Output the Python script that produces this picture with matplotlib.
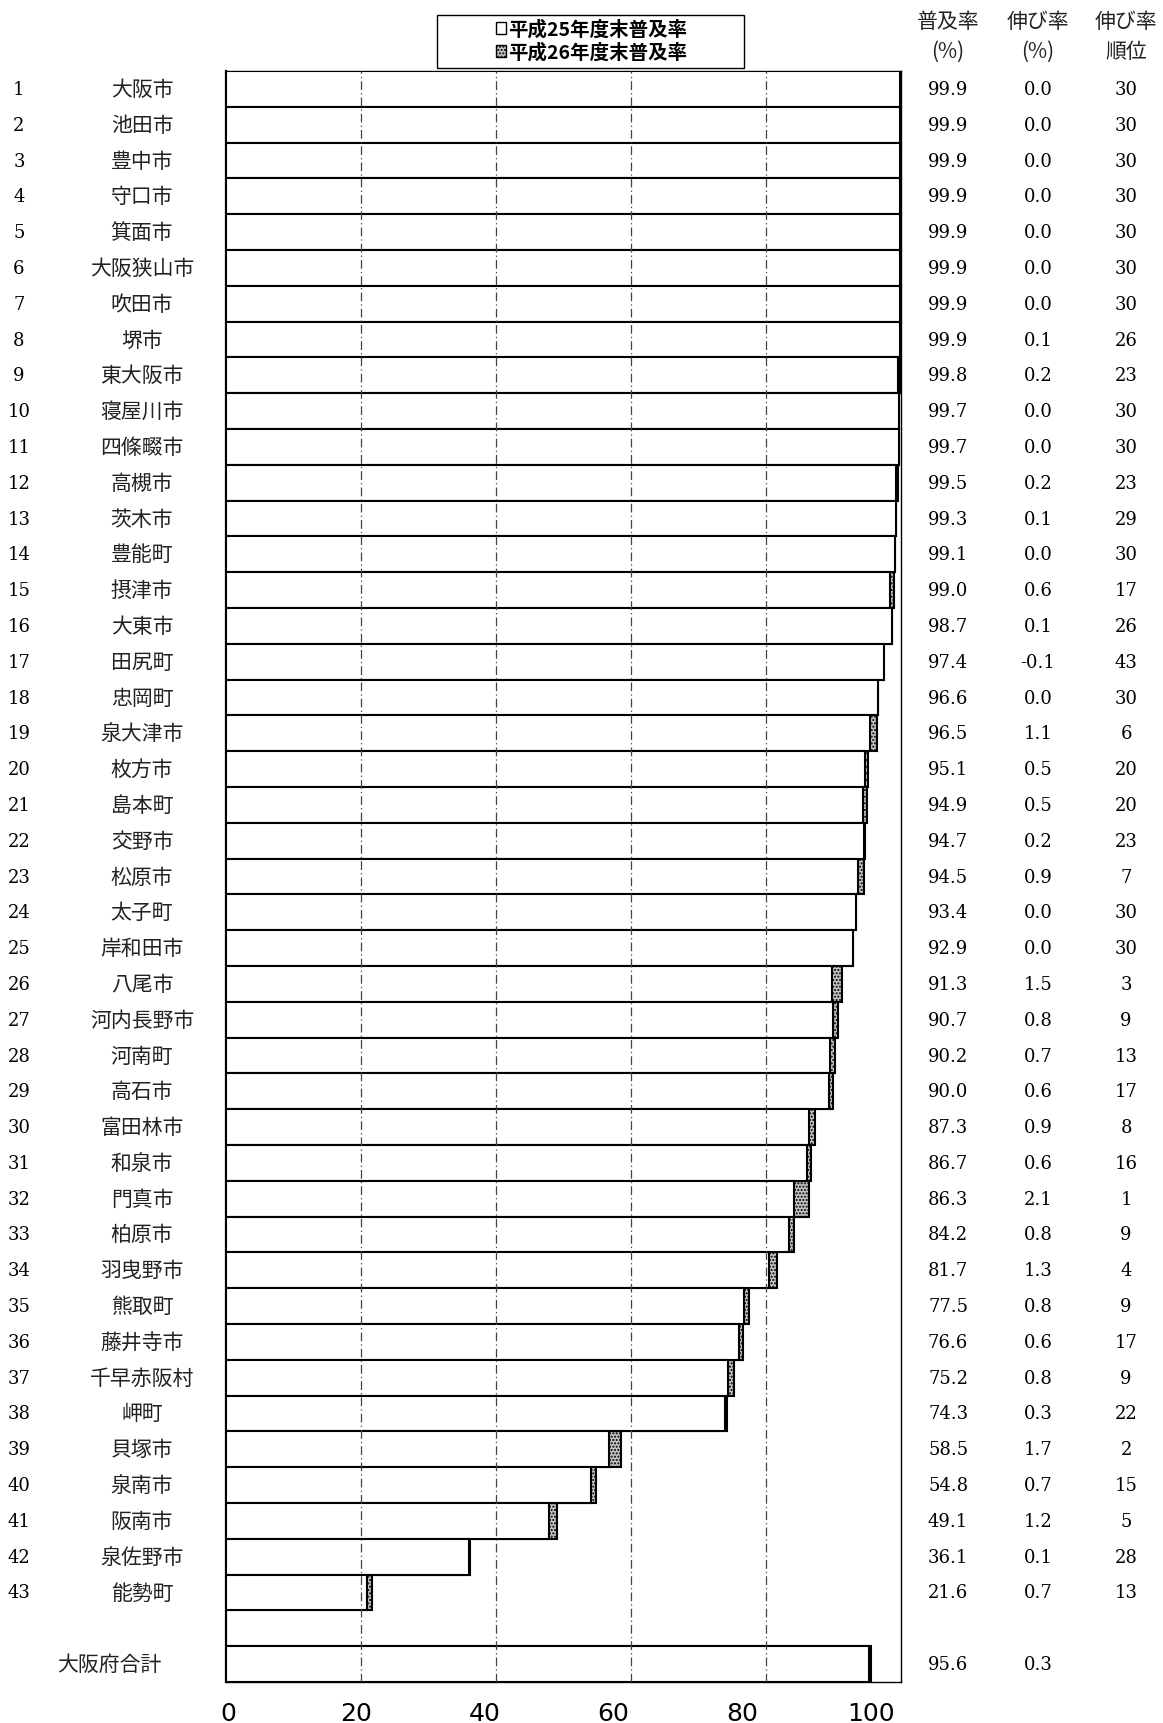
import matplotlib
matplotlib.use('Agg')
import matplotlib.pyplot as plt
from matplotlib.patches import Patch, Rectangle
from matplotlib.transforms import blended_transform_factory

# data
names = ['大阪市', '池田市', '豊中市', '守口市', '箕面市', '大阪狭山市', '吹田市', '堺市',
         '東大阪市', '寝屋川市', '四條畷市', '高槻市', '茨木市', '豊能町', '摂津市', '大東市',
         '田尻町', '忠岡町', '泉大津市', '枚方市', '島本町', '交野市', '松原市', '太子町',
         '岸和田市', '八尾市', '河内長野市', '河南町', '高石市', '富田林市', '和泉市', '門真市',
         '柏原市', '羽曳野市', '熊取町', '藤井寺市', '千早赤阪村', '岬町', '貝塚市', '泉南市',
         '阪南市', '泉佐野市', '能勢町']
rate26 = [99.9, 99.9, 99.9, 99.9, 99.9, 99.9, 99.9, 99.9, 99.8, 99.7, 99.7, 99.5, 99.3,
          99.1, 99.0, 98.7, 97.4, 96.6, 96.5, 95.1, 94.9, 94.7, 94.5, 93.4, 92.9, 91.3,
          90.7, 90.2, 90.0, 87.3, 86.7, 86.3, 84.2, 81.7, 77.5, 76.6, 75.2, 74.3, 58.5,
          54.8, 49.1, 36.1, 21.6]
growth = [0.0, 0.0, 0.0, 0.0, 0.0, 0.0, 0.0, 0.1, 0.2, 0.0, 0.0, 0.2, 0.1, 0.0, 0.6, 0.1,
          -0.1, 0.0, 1.1, 0.5, 0.5, 0.2, 0.9, 0.0, 0.0, 1.5, 0.8, 0.7, 0.6, 0.9, 0.6, 2.1,
          0.8, 1.3, 0.8, 0.6, 0.8, 0.3, 1.7, 0.7, 1.2, 0.1, 0.7]
rank = [30, 30, 30, 30, 30, 30, 30, 26, 23, 30, 30, 23, 29, 30, 17, 26, 43, 30, 6, 20, 20,
        23, 7, 30, 30, 3, 9, 13, 17, 8, 16, 1, 9, 4, 9, 17, 9, 22, 2, 15, 5, 28, 13]
total_name = '大阪府合計'
total_rate = 95.6
total_growth = 0.3
ticks = [0, 20, 40, 60, 80, 100]
legend_labels = ['平成25年度末普及率', '平成26年度末普及率']

jp = 'Noto Sans CJK JP'
serif = 'DejaVu Serif'
gray = '#c4c4c4'
txt = '#222222'

n = len(names)
ypos = list(range(n)) + [n + 1]          # one empty row before the prefecture total
all26 = rate26 + [total_rate]
all_g = growth + [total_growth]
all25 = [r - g for r, g in zip(all26, all_g)]

fig = plt.figure(figsize=(11.63, 17.24), dpi=100)
ax = fig.add_axes([0.1943, 0.0238, 0.5804, 0.9344])

ax.barh(ypos, all26, height=1.0, color=gray, edgecolor='black', linewidth=1.5,
        hatch='.....', zorder=2)
ax.barh(ypos, all25, height=1.0, color='white', edgecolor='black', linewidth=1.5, zorder=3)
for g in ticks[1:-1]:
    ax.axvline(g, color='#444444', lw=0.9, ls=(0, (7, 2.5, 1, 2.5)), zorder=4)

ax.set_xlim(0, 100)
ax.set_ylim(n + 1.5, -0.5)
ax.set_yticks([])
# the original's labels sit a little left of their gridlines
ax.set_xticks([0.3 + 0.952 * t for t in ticks])
ax.set_xticklabels([str(t) for t in ticks], fontsize=18, family='DejaVu Sans')
ax.tick_params(axis='x', length=0, pad=14)
for s in ['top', 'right', 'bottom']:
    ax.spines[s].set_linewidth(1.0)
ax.spines['left'].set_linewidth(1.6)

tr = blended_transform_factory(fig.transFigure, ax.transData)
for i in range(n):
    ax.text(0.0163, i, str(i + 1), transform=tr, ha='center', va='center',
            fontsize=13, family=serif, clip_on=False)
    ax.text(0.1221, i, names[i], transform=tr, ha='center', va='center',
            fontsize=15, family=jp, color=txt, clip_on=False)
    ax.text(0.8152, i, f'{rate26[i]:.1f}', transform=tr, ha='center', va='center',
            fontsize=13, family=serif, clip_on=False)
    ax.text(0.8925, i, f'{growth[i]:.1f}', transform=tr, ha='center', va='center',
            fontsize=13, family=serif, clip_on=False)
    ax.text(0.9682, i, str(rank[i]), transform=tr, ha='center', va='center',
            fontsize=13, family=serif, clip_on=False)
ax.text(0.0937, n + 1, total_name, transform=tr, ha='center', va='center',
        fontsize=15, family=jp, color=txt, clip_on=False)
ax.text(0.8152, n + 1, f'{total_rate:.1f}', transform=tr, ha='center', va='center',
        fontsize=13, family=serif, clip_on=False)
ax.text(0.8925, n + 1, f'{total_growth:.1f}', transform=tr, ha='center', va='center',
        fontsize=13, family=serif, clip_on=False)

# column headers
hy1, hy2 = 0.9872, 0.9698
hdr = dict(ha='center', va='center', fontsize=15, family=jp, color=txt)
fig.text(0.8152, hy1, '普及率', **hdr)
fig.text(0.8152, hy2, '(%)', **hdr)
fig.text(0.8925, hy1, '伸び率', **hdr)
fig.text(0.8925, hy2, '(%)', **hdr)
fig.text(0.9682, hy1, '伸び率', **hdr)
fig.text(0.9682, hy2, '順位', **hdr)

# legend
handles = [Patch(facecolor='white', edgecolor='black', lw=1.0),
           Patch(facecolor=gray, edgecolor='black', lw=1.0, hatch='.....')]
fig.legend(handles, legend_labels, loc='center', bbox_to_anchor=(0.5085, 0.9759),
           frameon=False, prop={'family': jp, 'weight': 'bold', 'size': 14},
           handlelength=0.55, handleheight=0.55, handletextpad=0.1, labelspacing=0.2)
fig.patches.append(Rectangle((0.3757, 0.9600), 0.2640, 0.0307, transform=fig.transFigure,
                             fill=False, edgecolor='black', lw=1.0))

fig.savefig('out.png', dpi=100)
